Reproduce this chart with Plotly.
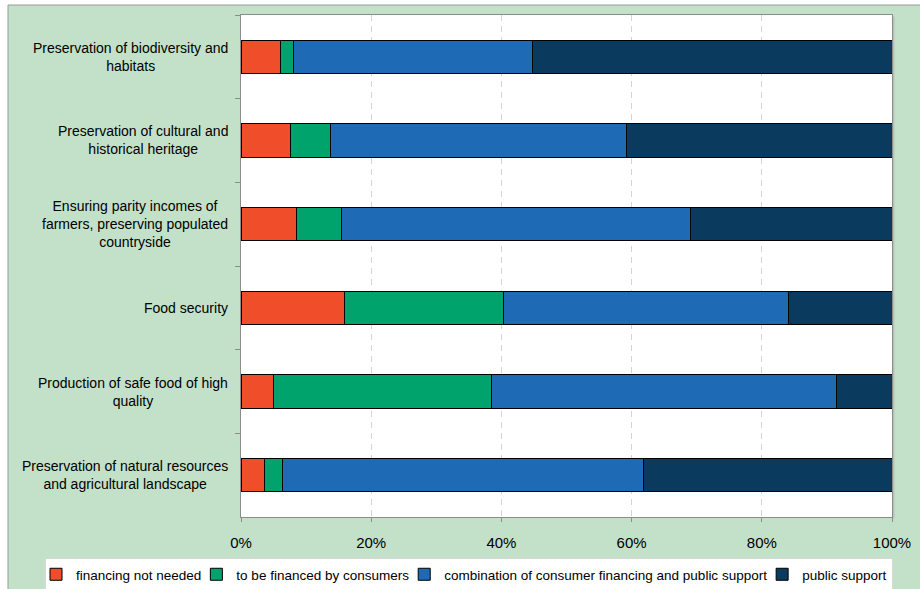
import plotly.graph_objects as go

# ---------------- data ----------------
categories = [
    "Preservation of biodiversity and<br>habitats",
    "Preservation of cultural and<br>historical heritage",
    "Ensuring parity incomes of<br>farmers, preserving populated<br>countryside",
    "Food security",
    "Production of safe food of high<br>quality",
    "Preservation of natural resources<br>and agricultural landscape",
]
series_names = [
    "financing not needed",
    "to be financed by consumers",
    "combination of consumer financing and public support",
    "public support",
]
not_needed = [6.0, 7.6, 8.5, 15.9, 5.0, 3.6]
by_consumers = [2.1, 6.2, 6.9, 24.4, 33.5, 2.7]
combination = [36.7, 45.4, 53.6, 43.8, 52.9, 55.6]
public_support = [55.2, 40.8, 31.0, 15.9, 8.6, 38.1]
x_tickvals = [0, 20, 40, 60, 80, 100]
x_ticktext = ["0%", "20%", "40%", "60%", "80%", "100%"]

colors = ["#F04E2A", "#00A36C", "#1F6AB4", "#0B3A5F"]
FONT = "Liberation Sans, Arial, sans-serif"

# ---------------- layout geometry ----------------
W, H = 920, 589
ML, MR, MT, MB = 8, 0, 5, 0
GW, GH = W - ML - MR, H - MT - MB
px_left, px_right, px_top, px_bottom = 241, 892, 15, 517
xdom = [(px_left - ML) / GW, (px_right - ML) / GW]
ydom = [(H - MB - px_bottom) / GH, (H - MB - px_top) / GH]

fig = go.Figure()
for name, vals, col in zip(series_names,
                           [not_needed, by_consumers, combination, public_support],
                           colors):
    fig.add_trace(go.Bar(
        y=categories, x=vals, name=name, orientation="h",
        marker=dict(color=col, line=dict(color="#000000", width=1)),
        hoverinfo="x+name",
    ))

annotations = []
for c in categories:
    annotations.append(dict(
        xref="paper", yref="y", x=xdom[0], y=c, text=c,
        xanchor="right", yanchor="middle", align="center",
        xshift=-11, showarrow=False,
        font=dict(family=FONT, size=14, color="#000000"),
    ))

shapes = [
    # white strips outside the green frame
    dict(type="rect", xref="paper", yref="paper", x0=-0.05, x1=0, y0=-0.1, y1=1.1,
         fillcolor="white", line=dict(width=0), layer="above"),
    dict(type="rect", xref="paper", yref="paper", x0=-0.05, x1=1.05, y0=1, y1=1.1,
         fillcolor="white", line=dict(width=0), layer="above"),
    # frame lines
    dict(type="line", xref="paper", yref="paper", x0=0, x1=0, y0=0, y1=1,
         line=dict(color="#9a9a9a", width=1)),
    dict(type="line", xref="paper", yref="paper", x0=0, x1=1.05, y0=1, y1=1,
         line=dict(color="#9a9a9a", width=1)),
    # slight shadow on the right edge of the plot area
    dict(type="line", xref="paper", yref="paper",
         x0=xdom[1] + 1.5 / GW, x1=xdom[1] + 1.5 / GW,
         y0=ydom[0] - 1.5 / GH, y1=ydom[1] - 1.5 / GH,
         line=dict(color="#b5c4b8", width=2), layer="below"),
]

fig.update_layout(
    template="none",
    width=W, height=H,
    margin=dict(l=ML, r=MR, t=MT, b=MB, pad=0, autoexpand=False),
    paper_bgcolor="#C3E1C9",
    plot_bgcolor="#FFFFFF",
    barmode="stack",
    bargap=0.6,
    font=dict(family=FONT, size=14, color="#000000"),
    showlegend=True,
    legend=dict(
        orientation="h", traceorder="normal",
        x=(469 - ML) / GW, xanchor="center",
        y=(H - MB - 558) / GH, yanchor="top",
        bgcolor="#FFFFFF", bordercolor="#d8d8d8", borderwidth=1,
        indentation=-10,
        font=dict(family=FONT, size=13.5, color="#000000"),
    ),
    xaxis=dict(
        domain=xdom, range=[0, 100], tickvals=x_tickvals, ticktext=x_ticktext,
        showgrid=True, gridcolor="#d4d4d4", griddash="6px,5px", gridwidth=1,
        showline=True, linecolor="#8c8c8c", linewidth=1, mirror=True,
        ticks="outside", ticklen=4, tickcolor="#8c8c8c",
        tickfont=dict(family=FONT, size=15, color="#000000"),
        ticklabelstandoff=8, zeroline=False, fixedrange=True, automargin=False,
    ),
    yaxis=dict(
        domain=ydom, autorange="reversed", type="category",
        showticklabels=False, showgrid=False,
        showline=True, linecolor="#8c8c8c", linewidth=1, mirror=True,
        ticks="outside", ticklen=5, tickcolor="#8c8c8c", tickson="boundaries",
        zeroline=False, fixedrange=True, automargin=False,
    ),
    annotations=annotations,
    shapes=shapes,
)

fig.write_html("out.html")
